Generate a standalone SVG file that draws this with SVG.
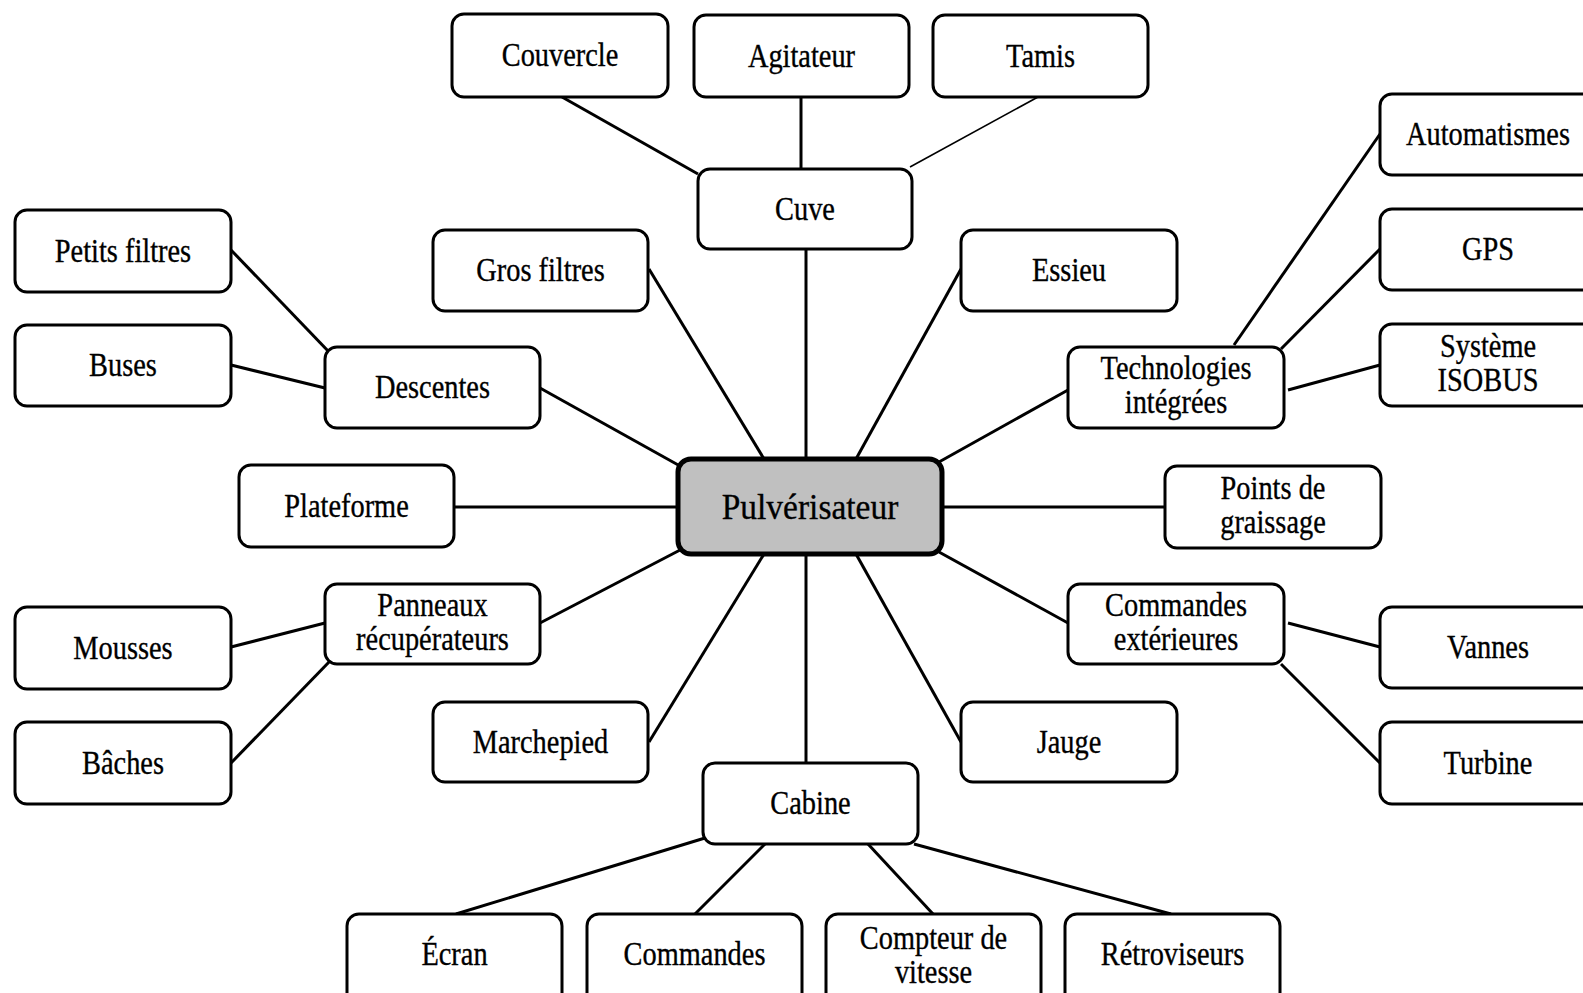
<svg xmlns="http://www.w3.org/2000/svg" width="1583" height="993" viewBox="0 0 1583 993">
<style>
.b{fill:#fff;stroke:#000;stroke-width:3}
.c{fill:#c0c0c0;stroke:#000;stroke-width:5}
text{font-family:'Liberation Serif','DejaVu Serif',serif;fill:#000;stroke:#000;stroke-width:0.35;text-anchor:middle}
.t{font-size:33px}
.tc{font-size:36px}
#edges line{stroke:#000;stroke-width:3}
</style>
<rect width="1583" height="993" fill="#fff"/>
<g id="edges">
<line x1="562" y1="97" x2="698" y2="174"/>
<line x1="801" y1="97" x2="801" y2="169"/>
<line x1="1038" y1="97" x2="910" y2="167" style="stroke-width:1.6"/>
<line x1="806" y1="249" x2="806" y2="459"/>
<line x1="649" y1="269" x2="764" y2="459"/>
<line x1="961" y1="269" x2="856" y2="459"/>
<line x1="540" y1="388" x2="680" y2="466"/>
<line x1="1068" y1="390" x2="939" y2="462"/>
<line x1="454" y1="507" x2="678" y2="507"/>
<line x1="942" y1="507" x2="1165" y2="507"/>
<line x1="540" y1="623" x2="682" y2="549"/>
<line x1="1068" y1="623" x2="939" y2="552"/>
<line x1="649" y1="742" x2="764" y2="554"/>
<line x1="961" y1="742" x2="856" y2="554"/>
<line x1="806" y1="763" x2="806" y2="554"/>
<line x1="231" y1="250" x2="330" y2="353"/>
<line x1="231" y1="365" x2="325" y2="388"/>
<line x1="231" y1="647" x2="325" y2="623"/>
<line x1="231" y1="763" x2="330" y2="661"/>
<line x1="1380" y1="134" x2="1234" y2="345"/>
<line x1="1380" y1="249" x2="1281" y2="349"/>
<line x1="1380" y1="365" x2="1288" y2="390"/>
<line x1="1380" y1="647" x2="1288" y2="623"/>
<line x1="1380" y1="763" x2="1281" y2="664"/>
<line x1="705" y1="838" x2="456" y2="914"/>
<line x1="765" y1="844" x2="695" y2="914"/>
<line x1="868" y1="844" x2="933" y2="914"/>
<line x1="914" y1="844" x2="1171" y2="914"/>
</g>
<g id="n-couvercle"><rect class="b" x="452" y="14" width="216" height="83" rx="12"/><text class="t" transform="translate(560 66) scale(0.86 1)">Couvercle</text></g>
<g id="n-agitateur"><rect class="b" x="694" y="15" width="215" height="82" rx="12"/><text class="t" transform="translate(801.5 67) scale(0.86 1)">Agitateur</text></g>
<g id="n-tamis"><rect class="b" x="933" y="15" width="215" height="82" rx="12"/><text class="t" transform="translate(1040.5 67) scale(0.86 1)">Tamis</text></g>
<g id="n-cuve"><rect class="b" x="698" y="169" width="214" height="80" rx="12"/><text class="t" transform="translate(805 220) scale(0.86 1)">Cuve</text></g>
<g id="n-gros-filtres"><rect class="b" x="433" y="230" width="215" height="81" rx="12"/><text class="t" transform="translate(540.5 281) scale(0.86 1)">Gros filtres</text></g>
<g id="n-essieu"><rect class="b" x="961" y="230" width="216" height="81" rx="12"/><text class="t" transform="translate(1069 281) scale(0.86 1)">Essieu</text></g>
<g id="n-petits-filtres"><rect class="b" x="15" y="210" width="216" height="82" rx="12"/><text class="t" transform="translate(123 262) scale(0.86 1)">Petits filtres</text></g>
<g id="n-buses"><rect class="b" x="15" y="325" width="216" height="81" rx="12"/><text class="t" transform="translate(123 376) scale(0.86 1)">Buses</text></g>
<g id="n-descentes"><rect class="b" x="325" y="347" width="215" height="81" rx="12"/><text class="t" transform="translate(432.5 398) scale(0.86 1)">Descentes</text></g>
<g id="n-technologies"><rect class="b" x="1068" y="347" width="216" height="81" rx="12"/><text class="t" transform="translate(1176 379) scale(0.86 1)">Technologies</text><text class="t" transform="translate(1176 413) scale(0.86 1)">intégrées</text></g>
<g id="n-automatismes"><rect class="b" x="1380" y="94" width="216" height="81" rx="12"/><text class="t" transform="translate(1488 145) scale(0.86 1)">Automatismes</text></g>
<g id="n-gps"><rect class="b" x="1380" y="209" width="216" height="81" rx="12"/><text class="t" transform="translate(1488 260) scale(0.86 1)">GPS</text></g>
<g id="n-isobus"><rect class="b" x="1380" y="324" width="216" height="82" rx="12"/><text class="t" transform="translate(1488 357) scale(0.86 1)">Système</text><text class="t" transform="translate(1488 391) scale(0.86 1)">ISOBUS</text></g>
<g id="n-pulverisateur"><rect class="c" x="678" y="459" width="264" height="95" rx="13"/><text class="tc" transform="translate(810 519) scale(0.93 1)">Pulvérisateur</text></g>
<g id="n-plateforme"><rect class="b" x="239" y="465" width="215" height="82" rx="12"/><text class="t" transform="translate(346.5 517) scale(0.86 1)">Plateforme</text></g>
<g id="n-points-graissage"><rect class="b" x="1165" y="466" width="216" height="82" rx="12"/><text class="t" transform="translate(1273 499) scale(0.86 1)">Points de</text><text class="t" transform="translate(1273 533) scale(0.86 1)">graissage</text></g>
<g id="n-panneaux"><rect class="b" x="325" y="584" width="215" height="80" rx="12"/><text class="t" transform="translate(432.5 616) scale(0.86 1)">Panneaux</text><text class="t" transform="translate(432.5 650) scale(0.86 1)">récupérateurs</text></g>
<g id="n-commandes-ext"><rect class="b" x="1068" y="584" width="216" height="80" rx="12"/><text class="t" transform="translate(1176 616) scale(0.86 1)">Commandes</text><text class="t" transform="translate(1176 650) scale(0.86 1)">extérieures</text></g>
<g id="n-mousses"><rect class="b" x="15" y="607" width="216" height="82" rx="12"/><text class="t" transform="translate(123 659) scale(0.86 1)">Mousses</text></g>
<g id="n-vannes"><rect class="b" x="1380" y="607" width="216" height="81" rx="12"/><text class="t" transform="translate(1488 658) scale(0.86 1)">Vannes</text></g>
<g id="n-baches"><rect class="b" x="15" y="722" width="216" height="82" rx="12"/><text class="t" transform="translate(123 774) scale(0.86 1)">Bâches</text></g>
<g id="n-turbine"><rect class="b" x="1380" y="722" width="216" height="82" rx="12"/><text class="t" transform="translate(1488 774) scale(0.86 1)">Turbine</text></g>
<g id="n-marchepied"><rect class="b" x="433" y="702" width="215" height="80" rx="12"/><text class="t" transform="translate(540.5 753) scale(0.86 1)">Marchepied</text></g>
<g id="n-jauge"><rect class="b" x="961" y="702" width="216" height="80" rx="12"/><text class="t" transform="translate(1069 753) scale(0.86 1)">Jauge</text></g>
<g id="n-cabine"><rect class="b" x="703" y="763" width="215" height="81" rx="12"/><text class="t" transform="translate(810.5 814) scale(0.86 1)">Cabine</text></g>
<g id="n-ecran"><rect class="b" x="347" y="914" width="215" height="92" rx="12"/><text class="t" transform="translate(454.5 965) scale(0.86 1)">Écran</text></g>
<g id="n-commandes"><rect class="b" x="587" y="914" width="215" height="92" rx="12"/><text class="t" transform="translate(694.5 965) scale(0.86 1)">Commandes</text></g>
<g id="n-compteur"><rect class="b" x="826" y="914" width="215" height="92" rx="12"/><text class="t" transform="translate(933.5 949) scale(0.86 1)">Compteur de</text><text class="t" transform="translate(933.5 983) scale(0.86 1)">vitesse</text></g>
<g id="n-retroviseurs"><rect class="b" x="1065" y="914" width="215" height="92" rx="12"/><text class="t" transform="translate(1172.5 965) scale(0.86 1)">Rétroviseurs</text></g>
</svg>
